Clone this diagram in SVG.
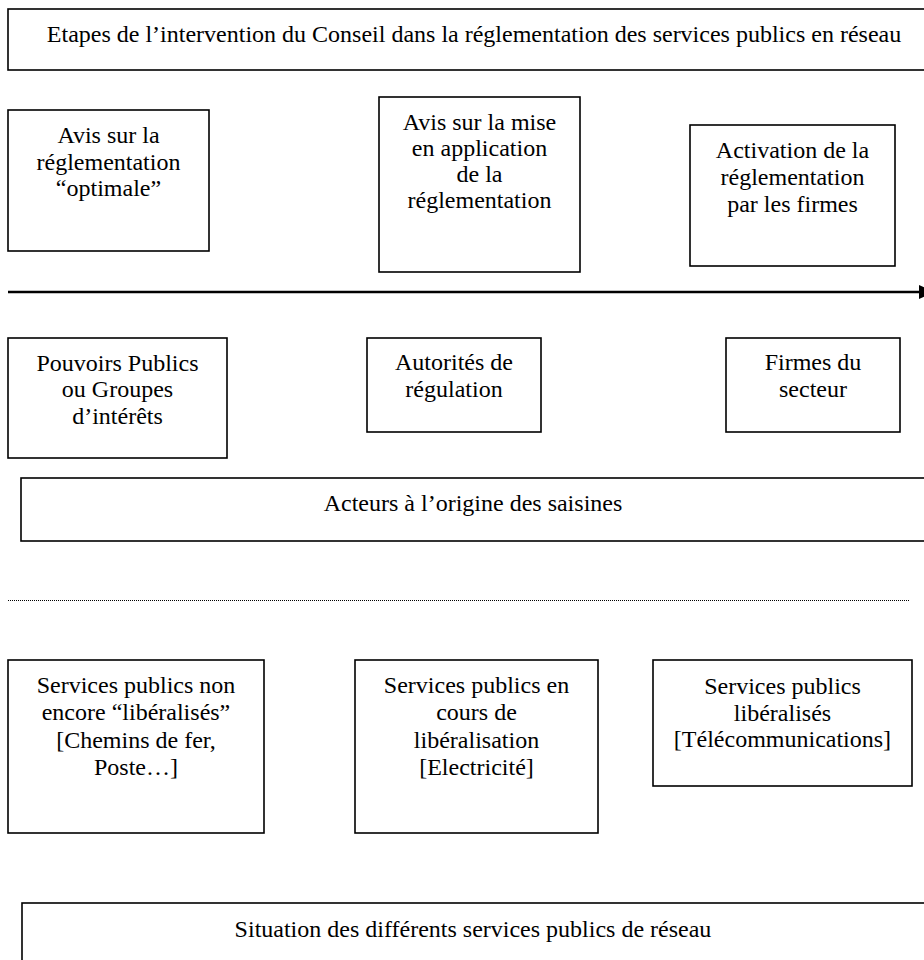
<svg xmlns="http://www.w3.org/2000/svg" width="924" height="960" viewBox="0 0 924 960">
<style>
  .box { fill: #fff; stroke: #000; stroke-width: 1.6; }
  .t { font-family: "Liberation Serif", "Times New Roman", serif; font-size: 24px; fill: #000; text-anchor: middle; }
  .axis { stroke: #000; stroke-width: 2.4; fill: none; }
  .dots { stroke: #000; stroke-width: 1.2; stroke-dasharray: 1 1; fill: none; }
</style>
<rect x="0" y="0" width="924" height="960" fill="#fff"/>

<g id="titre-etapes">
  <rect class="box" x="8" y="9" width="932" height="61"/>
  <text class="t" x="474" y="42">Etapes de l’intervention du Conseil dans la réglementation des services publics en réseau</text>
</g>

<g id="avis-optimale">
  <rect class="box" x="8" y="110" width="201" height="141"/>
  <text class="t" x="108.5" y="143">Avis sur la</text>
  <text class="t" x="108.5" y="170">réglementation</text>
  <text class="t" x="108.5" y="196">“optimale”</text>
</g>

<g id="avis-application">
  <rect class="box" x="379" y="97" width="201" height="175"/>
  <text class="t" x="479.5" y="130">Avis sur la mise</text>
  <text class="t" x="479.5" y="156">en application</text>
  <text class="t" x="479.5" y="182">de la</text>
  <text class="t" x="479.5" y="208">réglementation</text>
</g>

<g id="activation">
  <rect class="box" x="690" y="125" width="205" height="141"/>
  <text class="t" x="792.5" y="158">Activation de la</text>
  <text class="t" x="792.5" y="185">réglementation</text>
  <text class="t" x="792.5" y="212">par les firmes</text>
</g>

<g id="connecteurs">
  <line class="axis" x1="8" y1="292" x2="920" y2="292"/>
  <polygon points="919,285 919,299 935,292" fill="#000"/>
  <line class="dots" x1="8" y1="600.5" x2="910" y2="600.5"/>
</g>

<g id="pouvoirs-publics">
  <rect class="box" x="8" y="338" width="219" height="120"/>
  <text class="t" x="117.5" y="371">Pouvoirs Publics</text>
  <text class="t" x="117.5" y="397">ou Groupes</text>
  <text class="t" x="117.5" y="424">d’intérêts</text>
</g>

<g id="autorites">
  <rect class="box" x="367" y="338" width="174" height="94"/>
  <text class="t" x="454" y="370">Autorités de</text>
  <text class="t" x="454" y="397">régulation</text>
</g>

<g id="firmes">
  <rect class="box" x="726" y="338" width="174" height="94"/>
  <text class="t" x="813" y="370">Firmes du</text>
  <text class="t" x="813" y="397">secteur</text>
</g>

<g id="acteurs">
  <rect class="box" x="21" y="478" width="912" height="63"/>
  <text class="t" x="473" y="511">Acteurs à l’origine des saisines</text>
</g>

<g id="non-liberalises">
  <rect class="box" x="8" y="660" width="256" height="173"/>
  <text class="t" x="136" y="693">Services publics non</text>
  <text class="t" x="136" y="720">encore “libéralisés”</text>
  <text class="t" x="136" y="748">[Chemins de fer,</text>
  <text class="t" x="136" y="775">Poste…]</text>
</g>

<g id="en-cours">
  <rect class="box" x="355" y="660" width="243" height="173"/>
  <text class="t" x="476.5" y="693">Services publics en</text>
  <text class="t" x="476.5" y="720">cours de</text>
  <text class="t" x="476.5" y="748">libéralisation</text>
  <text class="t" x="476.5" y="775">[Electricité]</text>
</g>

<g id="liberalises">
  <rect class="box" x="653" y="660" width="259" height="126"/>
  <text class="t" x="782.5" y="694">Services publics</text>
  <text class="t" x="782.5" y="721">libéralisés</text>
  <text class="t" x="782.5" y="747">[Télécommunications]</text>
</g>

<g id="situation">
  <rect class="box" x="22" y="903" width="910" height="80"/>
  <text class="t" x="473" y="937">Situation des différents services publics de réseau</text>
</g>
</svg>
